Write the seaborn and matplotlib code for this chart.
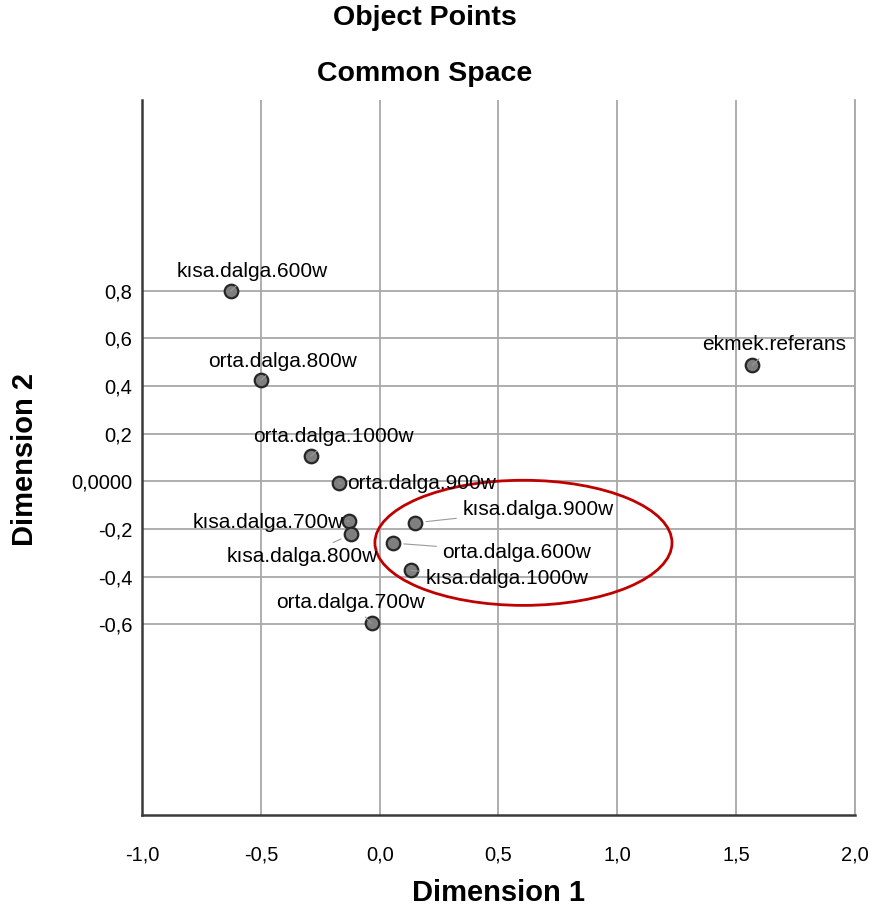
import matplotlib
matplotlib.use("Agg")
import matplotlib.pyplot as plt
import seaborn as sns
import pandas as pd
from matplotlib.patches import Ellipse

# ---- data ----
labels = ["kısa.dalga.600w", "orta.dalga.800w", "orta.dalga.1000w", "orta.dalga.900w",
          "kısa.dalga.700w", "kısa.dalga.800w", "orta.dalga.700w", "kısa.dalga.900w",
          "orta.dalga.600w", "kısa.dalga.1000w", "ekmek.referans"]
dim1 = [-0.627, -0.501, -0.289, -0.171, -0.128, -0.120, -0.034, 0.149, 0.055, 0.132, 1.568]
dim2 = [0.798, 0.424, 0.106, -0.007, -0.167, -0.223, -0.596, -0.174, -0.259, -0.374, 0.487]

# label anchor positions (data coordinates)
label_x = [-0.537, -0.407, -0.196, 0.178, -0.470, -0.327, -0.123, 0.666, 0.578, 0.536, 1.661]
label_y = [0.882, 0.504, 0.189, -0.008, -0.172, -0.315, -0.508, -0.118, -0.298, -0.408, 0.576]

xticks = [-1.0, -0.5, 0.0, 0.5, 1.0, 1.5, 2.0]
xtick_labels = ["-1,0", "-0,5", "0,0", "0,5", "1,0", "1,5", "2,0"]
yticks = [-0.6, -0.4, -0.2, 0.0, 0.2, 0.4, 0.6, 0.8]
ytick_labels = ["-0,6", "-0,4", "-0,2", "0,0000", "0,2", "0,4", "0,6", "0,8"]

sns.set_style("white")
plt.rcParams['font.family'] = ['Liberation Sans', 'DejaVu Sans']
plt.rcParams['text.color'] = '#000000'
plt.rcParams['axes.labelcolor'] = '#000000'

fig = plt.figure(figsize=(8.7, 9.18), dpi=100)
ax = fig.add_axes([142/870, 1-815/918, 713/870, 715/918])

df = pd.DataFrame({"Dimension 1": dim1, "Dimension 2": dim2, "label": labels})

ax.set_xlim(-1.0, 2.0)
ax.set_ylim(-1.4, 1.6)
ax.set_xticks(xticks)
ax.set_xticklabels(xtick_labels)
ax.set_yticks(yticks)
ax.set_yticklabels(ytick_labels)
ax.grid(True, color='#a8a8a8', lw=1.3)
ax.set_axisbelow(True)
ax.tick_params(axis='x', length=0, pad=22, labelsize=14.5, colors='#000000')
ax.tick_params(axis='y', length=0, pad=7, labelsize=14.5, colors='#000000')

ax.spines['top'].set_visible(False)
ax.spines['right'].set_color('#a8a8a8')
ax.spines['right'].set_linewidth(1.3)
for s in ['left', 'bottom']:
    ax.spines[s].set_color('#3a3a3a')
    ax.spines[s].set_linewidth(1.8)

ell = Ellipse((0.605, -0.258), 1.25, 0.525, facecolor='none', edgecolor='#c00000', lw=2.0, zorder=2)
ax.add_patch(ell)

sns.scatterplot(data=df, x="Dimension 1", y="Dimension 2", ax=ax, s=95,
                color='#7f7f7f', edgecolor='#262626', linewidth=1.6, zorder=4, legend=False)

for lab, px, py, tx, ty in zip(labels, dim1, dim2, label_x, label_y):
    ax.annotate(lab, xy=(px, py), xytext=(tx, ty), ha='center', va='center',
                fontsize=15, color='#000000', zorder=5,
                arrowprops=dict(arrowstyle='-', color='#9a9a9a', lw=0.8,
                                shrinkA=2, shrinkB=8))

ax.set_xlabel("Dimension 1", fontsize=21, fontweight='bold')
ax.set_ylabel("Dimension 2", fontsize=21, fontweight='bold')
ax.xaxis.label.set_va('center')
ax.yaxis.label.set_va('center')
ax.xaxis.set_label_coords(0.5, -(893-815)/715)
ax.yaxis.set_label_coords((25-142)/713, (815-460)/715)

fig.text(425/870, 1-18/918, "Object Points", ha='center', va='center', fontsize=20.5, fontweight='bold')
fig.text(425/870, 1-74/918, "Common Space", ha='center', va='center', fontsize=20.5, fontweight='bold')

fig.savefig("out.png", dpi=100, facecolor='white')
